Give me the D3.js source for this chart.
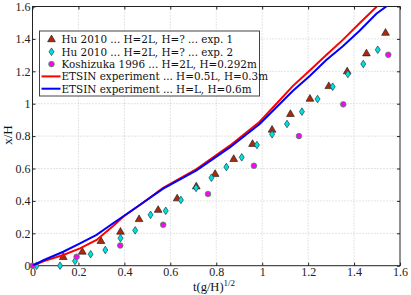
<!DOCTYPE html>
<html>
<head>
<meta charset="utf-8">
<script src="https://cdn.jsdelivr.net/npm/d3@7"></script>
<style>
  body { margin: 0; background: #fff; }
  svg { display: block; font-family: 'Liberation Serif', 'DejaVu Serif', serif; }
</style>
</head>
<body>
<svg id="chart"></svg>
<script>
const tickValues = [0, 0.2, 0.4, 0.6, 0.8, 1, 1.2, 1.4, 1.6];

const legendLabels = [
  'Hu 2010 ... H=2L, H=? ... exp. 1',
  'Hu 2010 ... H=2L, H=? ... exp. 2',
  'Koshizuka 1996 ... H=2L, H=0.292m',
  'ETSIN experiment ... H=0.5L, H=0.3m',
  'ETSIN experiment ... H=L, H=0.6m'
];

// [t(g/H)^1/2, x/H]
const huExp1 = [
  [0.134, 0.052], [0.217, 0.085], [0.298, 0.151], [0.383, 0.208], [0.464, 0.286],
  [0.547, 0.343], [0.63, 0.414], [0.713, 0.488], [0.795, 0.565], [0.876, 0.657],
  [0.958, 0.75], [1.043, 0.838], [1.123, 0.935], [1.208, 1.029], [1.29, 1.107],
  [1.37, 1.198], [1.454, 1.309], [1.537, 1.436]
];

const huExp2 = [
  [0.018, 0], [0.12, 0], [0.185, 0.029], [0.253, 0.071], [0.317, 0.097],
  [0.383, 0.17], [0.447, 0.218], [0.514, 0.314], [0.58, 0.339], [0.646, 0.406],
  [0.712, 0.48], [0.779, 0.543], [0.844, 0.609], [0.911, 0.669], [0.977, 0.745],
  [1.043, 0.811], [1.108, 0.875], [1.173, 0.951], [1.241, 1.029], [1.307, 1.105],
  [1.373, 1.183], [1.44, 1.245], [1.503, 1.333]
];

const koshizuka = [
  [0, 0], [0.192, 0.055], [0.382, 0.125], [0.569, 0.253], [0.764, 0.443],
  [0.964, 0.617], [1.16, 0.8], [1.353, 0.996], [1.549, 1.302]
];

const etsinHalf = [
  [0, 0], [0.05, 0.028], [0.134, 0.066], [0.207, 0.107], [0.279, 0.159],
  [0.351, 0.245], [0.395, 0.302], [0.467, 0.375], [0.569, 0.481], [0.714, 0.596],
  [0.859, 0.741], [0.989, 0.889], [1.062, 1.0], [1.134, 1.11], [1.207, 1.205],
  [1.279, 1.301], [1.351, 1.394], [1.424, 1.497], [1.499, 1.6], [1.52, 1.63]
];

const etsinFull = [
  [0, 0], [0.05, 0.035], [0.134, 0.086], [0.207, 0.138], [0.279, 0.19],
  [0.351, 0.262], [0.424, 0.333], [0.467, 0.375], [0.569, 0.476], [0.714, 0.588],
  [0.859, 0.73], [0.989, 0.875], [1.062, 0.978], [1.134, 1.08], [1.207, 1.171],
  [1.279, 1.27], [1.351, 1.355], [1.424, 1.45], [1.497, 1.555], [1.54, 1.6], [1.56, 1.63]
];

const svgWidth = 411;
const svgHeight = 295;
const margin = { top: 6.5, right: 11, bottom: 29.3, left: 32.5 };
const chartWidth = svgWidth - margin.left - margin.right;
const chartHeight = svgHeight - margin.top - margin.bottom;
const serif = "'Liberation Serif', 'DejaVu Serif', serif";

const svg = d3.select('#chart')
  .attr('width', svgWidth)
  .attr('height', svgHeight);

const g = svg.append('g')
  .attr('transform', `translate(${margin.left},${margin.top})`);

const xScale = d3.scaleLinear().domain([0, 1.6]).range([0, chartWidth]);
const yScale = d3.scaleLinear().domain([0, 1.6]).range([chartHeight, 0]);
const fmt = d3.format('~g');

g.append('clipPath').attr('id', 'clip')
  .append('rect').attr('width', chartWidth).attr('height', chartHeight);

// grid
g.append('g')
  .selectAll('line')
  .data(tickValues.slice(1, -1))
  .enter().append('line')
  .attr('x1', d => xScale(d)).attr('x2', d => xScale(d))
  .attr('y1', 0).attr('y2', chartHeight)
  .attr('stroke', '#bbb').attr('stroke-width', 0.8).attr('stroke-dasharray', '1,2');

g.append('g')
  .selectAll('line')
  .data(tickValues.slice(1, -1))
  .enter().append('line')
  .attr('y1', d => yScale(d)).attr('y2', d => yScale(d))
  .attr('x1', 0).attr('x2', chartWidth)
  .attr('stroke', '#bbb').attr('stroke-width', 0.8).attr('stroke-dasharray', '1,2');

// axes with inward ticks
const axisStyle = sel => {
  sel.attr('font-family', serif).attr('font-size', 12);
  sel.select('.domain').remove();
  sel.selectAll('line').attr('stroke', '#222');
  sel.selectAll('text').attr('fill', '#222');
};

g.append('g')
  .attr('transform', `translate(0,${chartHeight})`)
  .call(d3.axisBottom(xScale).tickValues(tickValues).tickFormat(fmt).tickSizeInner(-3).tickPadding(2))
  .call(axisStyle);

g.append('g')
  .call(d3.axisLeft(yScale).tickValues(tickValues).tickFormat(fmt).tickSizeInner(-3).tickPadding(2))
  .call(axisStyle);

g.append('g')
  .call(d3.axisTop(xScale).tickValues(tickValues).tickFormat('').tickSizeInner(-3))
  .call(axisStyle);

g.append('g')
  .attr('transform', `translate(${chartWidth},0)`)
  .call(d3.axisRight(yScale).tickValues(tickValues).tickFormat('').tickSizeInner(-3))
  .call(axisStyle);

g.append('rect')
  .attr('width', chartWidth).attr('height', chartHeight)
  .attr('fill', 'none').attr('stroke', '#222').attr('stroke-width', 1);

// markers
const triPath = d3.symbol().type(d3.symbolTriangle).size(26)();
const diamondPath = 'M0,-3.8L2.5,0L0,3.8L-2.5,0Z';

const drawTri = (sel, data) => sel.selectAll('path')
  .data(data).enter().append('path')
  .attr('d', triPath)
  .attr('transform', d => `translate(${xScale(d[0])},${yScale(d[1])})`)
  .attr('fill', '#b0280c').attr('stroke', '#111').attr('stroke-width', 0.6);

const drawDiamond = (sel, data) => sel.selectAll('path')
  .data(data).enter().append('path')
  .attr('d', diamondPath)
  .attr('transform', d => `translate(${xScale(d[0])},${yScale(d[1])})`)
  .attr('fill', '#00e0e0').attr('stroke', '#114444').attr('stroke-width', 0.7);

const drawCircle = (sel, data) => sel.selectAll('circle')
  .data(data).enter().append('circle')
  .attr('cx', d => xScale(d[0])).attr('cy', d => yScale(d[1])).attr('r', 2.8)
  .attr('fill', '#ff00ff').attr('stroke', '#3a9a3a').attr('stroke-width', 0.8);

drawTri(g.append('g'), huExp1);
drawDiamond(g.append('g'), huExp2);
drawCircle(g.append('g'), koshizuka);

const line = d3.line().x(d => xScale(d[0])).y(d => yScale(d[1]));

g.append('path').datum(etsinHalf)
  .attr('clip-path', 'url(#clip)')
  .attr('d', line).attr('fill', 'none').attr('stroke', '#ff0000').attr('stroke-width', 2);

g.append('path').datum(etsinFull)
  .attr('clip-path', 'url(#clip)')
  .attr('d', line).attr('fill', 'none').attr('stroke', '#0000ff').attr('stroke-width', 2);

// legend
const legend = svg.append('g').attr('transform', 'translate(39.5,31)');
legend.append('rect')
  .attr('width', 220).attr('height', 65)
  .attr('fill', '#fff').attr('stroke', '#444').attr('stroke-width', 1);

const rowY = i => 8.5 + i * 12.3;
const rows = legend.selectAll('g.row')
  .data(legendLabels).enter().append('g')
  .attr('class', 'row')
  .attr('transform', (d, i) => `translate(0,${rowY(i)})`);

rows.append('text')
  .attr('x', 22).attr('y', 3.8)
  .attr('font-family', "'DejaVu Serif', serif")
  .attr('font-size', 10.4)
  .attr('fill', '#111')
  .text(d => d);

drawTri(rows.filter((d, i) => i === 0).append('g'), [[0, 0]])
  .attr('transform', 'translate(12,0)');
drawDiamond(rows.filter((d, i) => i === 1).append('g'), [[0, 0]])
  .attr('transform', 'translate(12,0)');
drawCircle(rows.filter((d, i) => i === 2).append('g'), [[0, 0]])
  .attr('cx', 12).attr('cy', 0);

rows.filter((d, i) => i >= 3).append('line')
  .attr('x1', 2).attr('x2', 21).attr('y1', 0).attr('y2', 0)
  .attr('stroke', (d, i) => i === 0 ? '#ff0000' : '#0000ff').attr('stroke-width', 2);

// axis labels
const xLabel = svg.append('text')
  .attr('x', 193).attr('y', 291)
  .attr('font-family', serif)
  .attr('font-size', 12.5).attr('fill', '#111');
xLabel.append('tspan').text('t(g/H)');
xLabel.append('tspan').attr('dy', -5).attr('font-size', 9).text('1/2');

svg.append('text')
  .attr('transform', 'translate(12,135) rotate(-90)')
  .attr('text-anchor', 'middle')
  .attr('font-family', serif)
  .attr('font-size', 13).attr('fill', '#111')
  .text('x/H');
</script>
</body>
</html>
